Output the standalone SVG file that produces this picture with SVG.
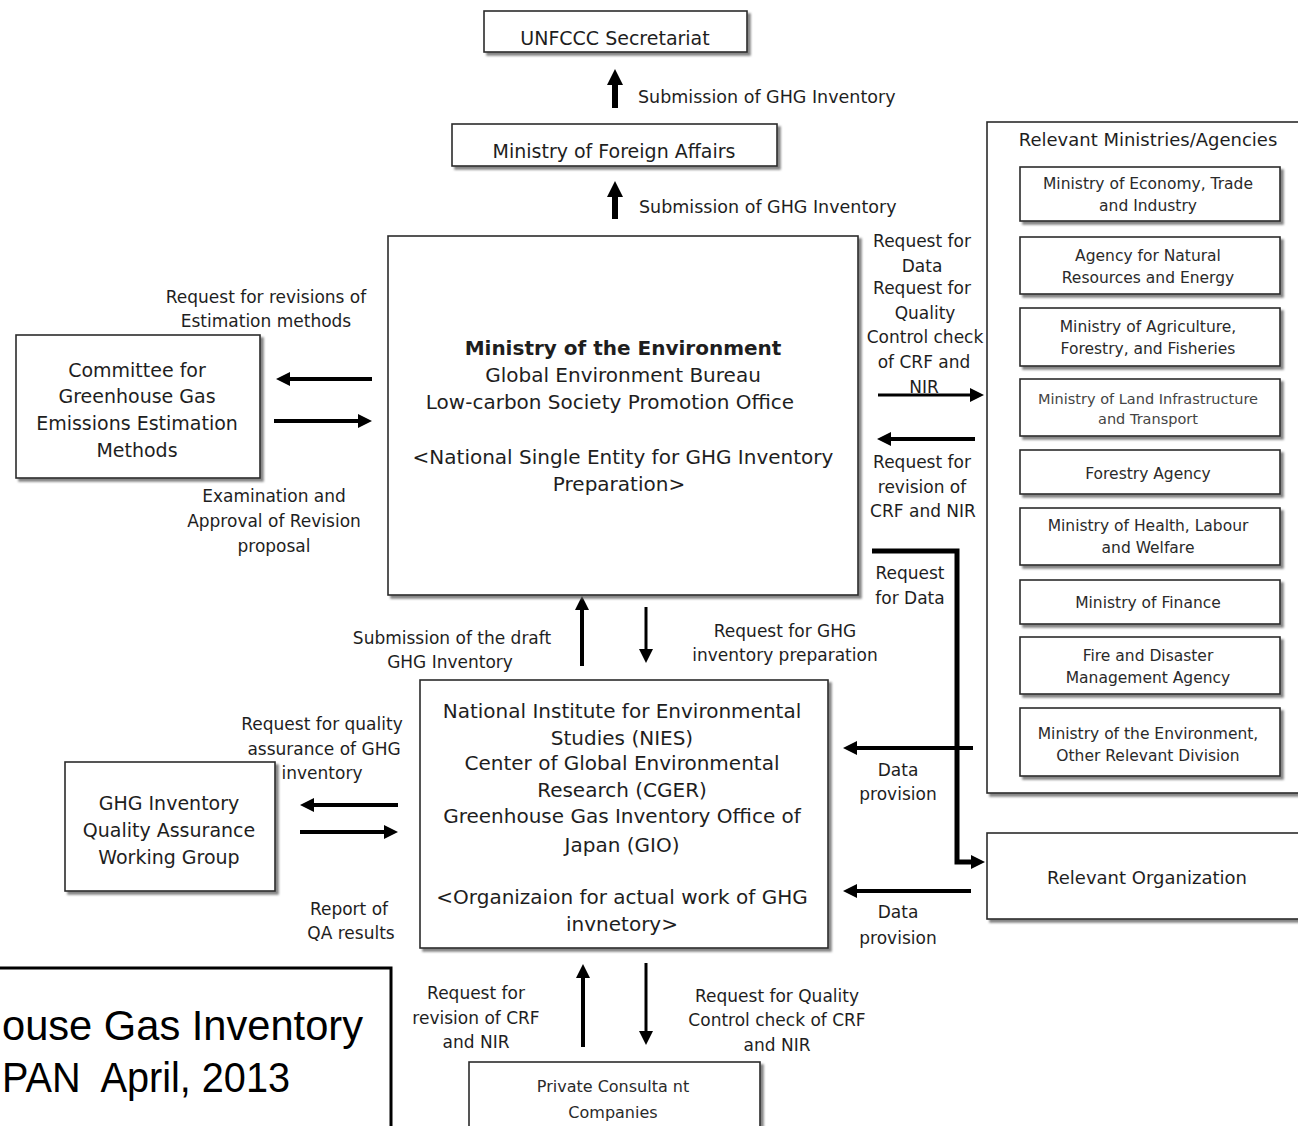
<svg xmlns="http://www.w3.org/2000/svg" width="1298" height="1126" viewBox="0 0 1298 1126">
<defs>
<style>
text{font-family:"DejaVu Sans",Verdana,sans-serif;fill:#1e1e1e}
.lb{font-size:17px;text-anchor:middle}
.ll{font-size:17.5px}
.bx{fill:#fff;stroke:#2a2a2a;stroke-width:1.6;filter:url(#ds)}
.t19{font-size:19px;text-anchor:middle}
.t20{font-size:20px;text-anchor:middle}
.t16{font-size:15.5px;text-anchor:middle;fill:#2a2a2a}
.t18{font-size:18px;text-anchor:middle}
.c{fill:none;stroke:#000}
.big{font-family:"Liberation Sans",Arial,sans-serif;font-size:42px;fill:#000}
</style>
<filter id="ds" x="-5%" y="-5%" width="115%" height="120%">
<feDropShadow dx="3" dy="3" stdDeviation="1" flood-color="#666" flood-opacity="0.8"/>
</filter>
<marker id="ah" markerUnits="userSpaceOnUse" viewBox="0 0 14 14" markerWidth="14" markerHeight="14" refX="4" refY="7" orient="auto"><path d="M0,0L14,7L0,14z" fill="#000"/></marker>
<marker id="ahB" markerUnits="userSpaceOnUse" viewBox="0 0 16 16" markerWidth="16" markerHeight="16" refX="5" refY="8" orient="auto"><path d="M0,0L16,8L0,16z" fill="#000"/></marker>
</defs>
<rect width="1298" height="1126" fill="#fff"/>

<g id="connectors">
<path class="c" d="M615,108V80" stroke-width="6" marker-end="url(#ahB)"/>
<path class="c" d="M615,219V192" stroke-width="6" marker-end="url(#ahB)"/>
<path class="c" d="M372,379H286" stroke-width="4" marker-end="url(#ah)"/>
<path class="c" d="M274,421H362" stroke-width="4" marker-end="url(#ah)"/>
<path class="c" d="M878,395H974" stroke-width="3" marker-end="url(#ah)"/>
<path class="c" d="M975,439H887" stroke-width="4" marker-end="url(#ah)"/>
<path class="c" d="M872,551H957V862H975" stroke-width="5" marker-end="url(#ah)"/>
<path class="c" d="M582,666V606" stroke-width="4" marker-end="url(#ah)"/>
<path class="c" d="M646,607V653" stroke-width="3" marker-end="url(#ah)"/>
<path class="c" d="M398,805H310" stroke-width="4" marker-end="url(#ah)"/>
<path class="c" d="M300,832H388" stroke-width="4" marker-end="url(#ah)"/>
<path class="c" d="M973,748H853" stroke-width="4" marker-end="url(#ah)"/>
<path class="c" d="M971,891H853" stroke-width="4" marker-end="url(#ah)"/>
<path class="c" d="M583,1047V974" stroke-width="4" marker-end="url(#ah)"/>
<path class="c" d="M646,963V1035" stroke-width="3" marker-end="url(#ah)"/>
</g>

<g id="connector-labels">
<text class="ll" x="638" y="103">Submission of GHG Inventory</text>
<text class="ll" x="639" y="213">Submission of GHG Inventory</text>
<text class="lb" x="266" y="303">Request for revisions of</text>
<text class="lb" x="266" y="327">Estimation methods</text>
<text class="lb" x="274" y="502">Examination and</text>
<text class="lb" x="274" y="527">Approval of Revision</text>
<text class="lb" x="274" y="552">proposal</text>
<text class="lb" x="922" y="247">Request for</text>
<text class="lb" x="922" y="272">Data</text>
<text class="lb" x="922" y="294">Request for</text>
<text class="lb" x="925" y="319">Quality</text>
<text class="lb" x="925" y="343">Control check</text>
<text class="lb" x="924" y="368">of CRF and</text>
<text class="lb" x="924" y="393">NIR</text>
<text class="lb" x="922" y="468">Request for</text>
<text class="lb" x="922" y="493">revision of</text>
<text class="lb" x="923" y="517">CRF and NIR</text>
<text class="lb" x="910" y="579">Request</text>
<text class="lb" x="910" y="604">for Data</text>
<text class="lb" x="452" y="644">Submission of the draft</text>
<text class="lb" x="450" y="668">GHG Inventory</text>
<text class="lb" x="785" y="637">Request for GHG</text>
<text class="lb" x="785" y="661">inventory preparation</text>
<text class="lb" x="322" y="730">Request for quality</text>
<text class="lb" x="324" y="755">assurance of GHG</text>
<text class="lb" x="322" y="779">inventory</text>
<text class="lb" x="349" y="915">Report of</text>
<text class="lb" x="351" y="939">QA results</text>
<text class="lb" x="898" y="776">Data</text>
<text class="lb" x="898" y="800">provision</text>
<text class="lb" x="898" y="918">Data</text>
<text class="lb" x="898" y="944">provision</text>
<text class="lb" x="476" y="999">Request for</text>
<text class="lb" x="476" y="1024">revision of CRF</text>
<text class="lb" x="476" y="1048">and NIR</text>
<text class="lb" x="777" y="1002">Request for Quality</text>
<text class="lb" x="777" y="1026">Control check of CRF</text>
<text class="lb" x="777" y="1051">and NIR</text>
</g>

<g id="unfccc">
<rect class="bx" x="484" y="11" width="263" height="41"/>
<text class="t19" x="615" y="45">UNFCCC Secretariat</text>
</g>
<g id="mofa">
<rect class="bx" x="452" y="124" width="325" height="42"/>
<text class="t19" x="614" y="158">Ministry of Foreign Affairs</text>
</g>
<g id="moe">
<rect class="bx" x="388" y="236" width="470" height="359"/>
<text class="t20" x="623" y="355" font-weight="bold">Ministry of the Environment</text>
<text class="t20" x="623" y="382">Global Environment Bureau</text>
<text class="t20" x="610" y="409">Low-carbon Society Promotion Office</text>
<text class="t20" x="623" y="464">&lt;National Single Entity for GHG Inventory</text>
<text class="t20" x="619" y="491">Preparation&gt;</text>
</g>
<g id="committee">
<rect class="bx" x="16" y="335" width="244" height="143"/>
<text class="t19" x="137" y="377">Committee for</text>
<text class="t19" x="137" y="403">Greenhouse Gas</text>
<text class="t19" x="137" y="430">Emissions Estimation</text>
<text class="t19" x="137" y="457">Methods</text>
</g>
<g id="ministries">
<rect class="bx" x="987" y="122" width="330" height="671"/>
<text class="t18" x="1148" y="146">Relevant Ministries/Agencies</text>
</g>
<g id="meti">
<rect class="bx" x="1020" y="167" width="260" height="54"/>
<text class="t16" x="1148" y="189">Ministry of Economy, Trade</text>
<text class="t16" x="1148" y="211">and Industry</text>
</g>
<g id="anre">
<rect class="bx" x="1020" y="237" width="260" height="57"/>
<text class="t16" x="1148" y="261">Agency for Natural</text>
<text class="t16" x="1148" y="283">Resources and Energy</text>
</g>
<g id="maff">
<rect class="bx" x="1020" y="308" width="260" height="58"/>
<text class="t16" x="1148" y="332">Ministry of Agriculture,</text>
<text class="t16" x="1148" y="354">Forestry, and Fisheries</text>
</g>
<g id="mlit">
<rect class="bx" x="1020" y="379" width="260" height="57"/>
<text class="t16" x="1148" y="404" style="font-size:14.5px;fill:#444">Ministry of Land Infrastructure</text>
<text class="t16" x="1148" y="424" style="font-size:14.5px;fill:#444">and Transport</text>
</g>
<g id="forestry">
<rect class="bx" x="1020" y="450" width="260" height="44"/>
<text class="t16" x="1148" y="479">Forestry Agency</text>
</g>
<g id="mhlw">
<rect class="bx" x="1020" y="508" width="260" height="57"/>
<text class="t16" x="1148" y="531">Ministry of Health, Labour</text>
<text class="t16" x="1148" y="553">and Welfare</text>
</g>
<g id="mof">
<rect class="bx" x="1020" y="580" width="260" height="44"/>
<text class="t16" x="1148" y="608">Ministry of Finance</text>
</g>
<g id="fdma">
<rect class="bx" x="1020" y="637" width="260" height="57"/>
<text class="t16" x="1148" y="661">Fire and Disaster</text>
<text class="t16" x="1148" y="683">Management Agency</text>
</g>
<g id="moe-other">
<rect class="bx" x="1020" y="708" width="260" height="68"/>
<text class="t16" x="1148" y="739">Ministry of the Environment,</text>
<text class="t16" x="1148" y="761">Other Relevant Division</text>
</g>
<g id="relevant-org">
<rect class="bx" x="987" y="833" width="330" height="86"/>
<text class="t18" x="1147" y="884">Relevant Organization</text>
</g>
<g id="nies">
<rect class="bx" x="420" y="680" width="408" height="268"/>
<text class="t20" x="622" y="718">National Institute for Environmental</text>
<text class="t20" x="622" y="745">Studies (NIES)</text>
<text class="t20" x="622" y="770">Center of Global Environmental</text>
<text class="t20" x="622" y="797">Research (CGER)</text>
<text class="t20" x="622" y="823">Greenhouse Gas Inventory Office of</text>
<text class="t20" x="622" y="852">Japan (GIO)</text>
<text class="t20" x="622" y="904">&lt;Organizaion for actual work of GHG</text>
<text class="t20" x="622" y="931">invnetory&gt;</text>
</g>
<g id="qawg">
<rect class="bx" x="65" y="762" width="210" height="129"/>
<text class="t19" x="169" y="810">GHG Inventory</text>
<text class="t19" x="169" y="837">Quality Assurance</text>
<text class="t19" x="169" y="864">Working Group</text>
</g>
<g id="consultants">
<rect class="bx" x="469" y="1062" width="291" height="80"/>
<text class="t16" x="613" y="1092" style="font-size:16px">Private Consulta nt</text>
<text class="t16" x="613" y="1118" style="font-size:16px">Companies</text>
</g>
<g id="caption">
<rect x="-5" y="968" width="396" height="200" fill="#fff" stroke="#000" stroke-width="3"/>
<text class="big" x="2" y="1040" textLength="361" lengthAdjust="spacingAndGlyphs">ouse Gas Inventory</text>
<text class="big" x="2" y="1092" textLength="288" lengthAdjust="spacingAndGlyphs" xml:space="preserve">PAN  April, 2013</text>
</g>
</svg>
